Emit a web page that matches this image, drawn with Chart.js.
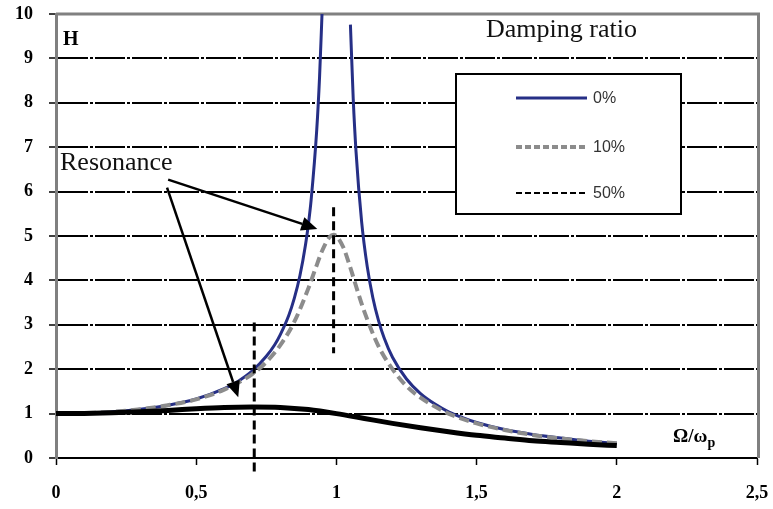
<!DOCTYPE html>
<html>
<head>
<meta charset="utf-8">
<script src="https://cdn.jsdelivr.net/npm/chart.js@4.4.1/dist/chart.umd.min.js"></script>
<style>
  html, body { margin: 0; padding: 0; background: #fff; }
  #wrap { width: 773px; height: 509px; position: relative; }
</style>
</head>
<body>
<div id="wrap"><canvas id="c" width="773" height="509"></canvas></div>
<script>
// ---- Data ----
// Frequency ratio (Omega / omega_p) and amplitude H for each damping ratio
const ratio0 = [0, 0.1, 0.2, 0.3, 0.4, 0.5, 0.6, 0.65, 0.7, 0.75, 0.78, 0.8, 0.83, 0.85, 0.87, 0.89, 0.9, 0.91, 0.93, 0.94, 0.9487,
                1.0,
                1.05, 1.06, 1.07, 1.09, 1.11, 1.13, 1.15, 1.17, 1.2, 1.25, 1.3, 1.35, 1.4, 1.45, 1.5, 1.6, 1.7, 1.8, 1.9, 2.0];
const h0     = [1, 1.01, 1.04, 1.10, 1.19, 1.33, 1.56, 1.73, 1.96, 2.29, 2.55, 2.78, 3.21, 3.60, 4.11, 4.81, 5.26, 5.82, 7.40, 8.59, 10.0,
                null,
                9.76, 8.09, 6.90, 5.32, 4.31, 3.61, 3.10, 2.71, 2.27, 1.78, 1.45, 1.22, 1.04, 0.91, 0.80, 0.64, 0.53, 0.45, 0.38, 0.33];

const ratio10 = [0, 0.1, 0.2, 0.3, 0.4, 0.5, 0.6, 0.7, 0.75, 0.8, 0.85, 0.9, 0.925, 0.95, 0.975, 0.99, 1.0, 1.025, 1.05, 1.075, 1.1, 1.15, 1.2, 1.25, 1.3, 1.4, 1.5, 1.6, 1.7, 1.8, 1.9, 2.0];
const h10     = [1, 1.01, 1.04, 1.10, 1.19, 1.32, 1.54, 1.89, 2.16, 2.54, 3.07, 3.82, 4.26, 4.68, 4.97, 5.03, 5.0, 4.74, 4.28, 3.77, 3.29, 2.52, 2.00, 1.62, 1.36, 1.0, 0.78, 0.63, 0.52, 0.44, 0.38, 0.33];

const ratio50 = [0, 0.1, 0.2, 0.3, 0.4, 0.5, 0.6, 0.7, 0.8, 0.9, 1.0, 1.1, 1.2, 1.3, 1.4, 1.5, 1.6, 1.7, 1.8, 1.9, 2.0];
const h50     = [1, 1.005, 1.02, 1.04, 1.07, 1.11, 1.14, 1.15, 1.14, 1.09, 1.0, 0.89, 0.78, 0.68, 0.59, 0.51, 0.45, 0.39, 0.35, 0.31, 0.28];

// Resonance markers (vertical dashed lines): x position, top and bottom value
const resonanceX   = [0.707, 0.99];
const resonanceTop = [3.05, 5.65];
const resonanceBot = [-0.32, 2.36];

// Axis ticks
const xTicks = [0, 0.5, 1, 1.5, 2, 2.5];
const yTicks = [0, 1, 2, 3, 4, 5, 6, 7, 8, 9, 10];

// Legend entries
const legendLabels = ['0%', '10%', '50%'];

// Arrows: [fromX, fromY, toX, toY] in data units
const arrows = [
  [0.40, 6.27, 0.932, 5.16],
  [0.396, 6.09, 0.65, 1.37]
];

const pts = (xs, ys) => xs.map((x, i) => ({ x: x, y: ys[i] }));

const serif = '"Liberation Serif", "Times New Roman", serif';
const sans = '"Liberation Sans", Arial, sans-serif';

const annotations = {
  id: 'annotations',
  beforeDatasetsDraw(chart) {
    const ctx = chart.ctx, a = chart.chartArea;
    ctx.save();
    // gray frame top and right
    ctx.strokeStyle = '#808080';
    ctx.lineWidth = 3;
    ctx.beginPath();
    ctx.moveTo(a.left, a.top);
    ctx.lineTo(a.right + 1.5, a.top);
    ctx.lineTo(a.right + 1.5, a.bottom);
    ctx.stroke();
    ctx.restore();
  },
  afterDraw(chart) {
    const ctx = chart.ctx;
    const xs = chart.scales.x, ys = chart.scales.y;
    ctx.save();
    // Text labels
    ctx.fillStyle = '#000';
    ctx.textBaseline = 'alphabetic';
    ctx.textAlign = 'left';
    ctx.font = 'bold 20px ' + serif;
    ctx.fillText('H', 63, 45);
    ctx.fillStyle = '#111';
    ctx.font = '26px ' + serif;
    ctx.fillText('Damping ratio', 486, 37);
    ctx.fillText('Resonance', 60, 170);
    ctx.font = 'bold 19px ' + serif;
    ctx.fillStyle = '#000';
    ctx.fillText('\u03A9/\u03C9', 673, 442);
    const w = ctx.measureText('\u03A9/\u03C9').width;
    ctx.font = 'bold 14px ' + serif;
    ctx.fillText('p', 673 + w, 447);

    // Arrows
    ctx.strokeStyle = '#000';
    ctx.fillStyle = '#000';
    ctx.lineWidth = 2.5;
    arrows.forEach(ar => {
      const x1 = xs.getPixelForValue(ar[0]), y1 = ys.getPixelForValue(ar[1]);
      const x2 = xs.getPixelForValue(ar[2]), y2 = ys.getPixelForValue(ar[3]);
      const ang = Math.atan2(y2 - y1, x2 - x1);
      const hl = 16, hw = 7;
      const bx = x2 - hl * Math.cos(ang), by = y2 - hl * Math.sin(ang);
      ctx.beginPath();
      ctx.moveTo(x1, y1);
      ctx.lineTo(bx, by);
      ctx.stroke();
      ctx.beginPath();
      ctx.moveTo(x2, y2);
      ctx.lineTo(bx + hw * Math.sin(ang), by - hw * Math.cos(ang));
      ctx.lineTo(bx - hw * Math.sin(ang), by + hw * Math.cos(ang));
      ctx.closePath();
      ctx.fill();
    });

    // Legend box
    const lx = 456, ly = 74, lw = 225, lh = 140;
    ctx.fillStyle = '#fff';
    ctx.fillRect(lx, ly, lw, lh);
    ctx.strokeStyle = '#000';
    ctx.lineWidth = 2;
    ctx.strokeRect(lx, ly, lw, lh);
    const styles = [
      { color: '#262f86', width: 3, dash: [] },
      { color: '#8c8c8c', width: 4, dash: [6, 3] },
      { color: '#000', width: 2, dash: [6, 3] }
    ];
    const rows = [98, 147, 193];
    ctx.font = '16px ' + sans;
    legendLabels.forEach((lab, i) => {
      const s = styles[i];
      ctx.beginPath();
      ctx.setLineDash(s.dash);
      ctx.strokeStyle = s.color;
      ctx.lineWidth = s.width;
      ctx.moveTo(516, rows[i]);
      ctx.lineTo(587, rows[i]);
      ctx.stroke();
      ctx.setLineDash([]);
      ctx.fillStyle = '#333';
      ctx.textBaseline = 'middle';
      ctx.fillText(lab, 593, rows[i] + 1);
    });
    ctx.restore();
  }
};

function noPad(scale) {
  scale.paddingTop = 0; scale.paddingBottom = 0;
  scale.paddingLeft = 0; scale.paddingRight = 0;
}

new Chart(document.getElementById('c'), {
  type: 'line',
  data: {
    datasets: [
      {
        label: 'resonance 50%',
        data: [{ x: resonanceX[0], y: resonanceTop[0] }, { x: resonanceX[0], y: resonanceBot[0] }],
        borderColor: '#000', borderWidth: 3, borderDash: [9, 5],
        pointRadius: 0, clip: false, order: 0
      },
      {
        label: 'resonance 10%',
        data: [{ x: resonanceX[1], y: resonanceTop[1] }, { x: resonanceX[1], y: resonanceBot[1] }],
        borderColor: '#000', borderWidth: 3, borderDash: [9, 5],
        pointRadius: 0, clip: false, order: 0
      },
      {
        label: '50%',
        data: pts(ratio50, h50),
        borderColor: '#000', borderWidth: 5,
        pointRadius: 0, cubicInterpolationMode: 'monotone', order: 1
      },
      {
        label: '10%',
        data: pts(ratio10, h10),
        borderColor: '#8c8c8c', borderWidth: 4, borderDash: [10, 5],
        pointRadius: 0, cubicInterpolationMode: 'monotone', order: 2
      },
      {
        label: '0%',
        data: pts(ratio0, h0),
        borderColor: '#262f86', borderWidth: 3,
        pointRadius: 0, cubicInterpolationMode: 'monotone', spanGaps: false, order: 3
      }
    ]
  },
  options: {
    responsive: false,
    animation: false,
    events: [],
    layout: { padding: { top: 14, right: 16, left: 0, bottom: 0 } },
    plugins: { legend: { display: false }, tooltip: { enabled: false } },
    scales: {
      x: {
        type: 'linear', min: 0, max: 2.5,
        afterBuildTicks(scale) { scale.ticks = xTicks.map(v => ({ value: v })); },
        afterFit(scale) { scale.height = 51; noPad(scale); },
        ticks: {
          color: '#000', padding: 18, maxRotation: 0, autoSkip: false,
          font: { family: serif, size: 18, weight: 'bold' },
          callback: v => String(v).replace('.', ',')
        },
        grid: { drawOnChartArea: false, drawTicks: true, tickLength: 7, tickColor: '#000', tickWidth: 1.5 },
        border: { color: '#000', width: 2 }
      },
      y: {
        min: 0, max: 10,
        afterBuildTicks(scale) { scale.ticks = yTicks.map(v => ({ value: v })); },
        afterFit(scale) { scale.width = 56; noPad(scale); },
        ticks: {
          color: '#000', padding: 16, autoSkip: false,
          font: { family: serif, size: 18, weight: 'bold' }
        },
        grid: {
          drawTicks: true, tickLength: 7, tickColor: '#000', tickWidth: 1.5,
          lineWidth: 2,
          color: ctx => (ctx.tick && (ctx.tick.value === 0 || ctx.tick.value === 10)) ? 'rgba(0,0,0,0)' : '#000'
        },
        border: { color: '#808080', width: 3, dash: [30, 2, 3, 2] }
      }
    }
  },
  plugins: [annotations]
});
</script>
</body>
</html>
